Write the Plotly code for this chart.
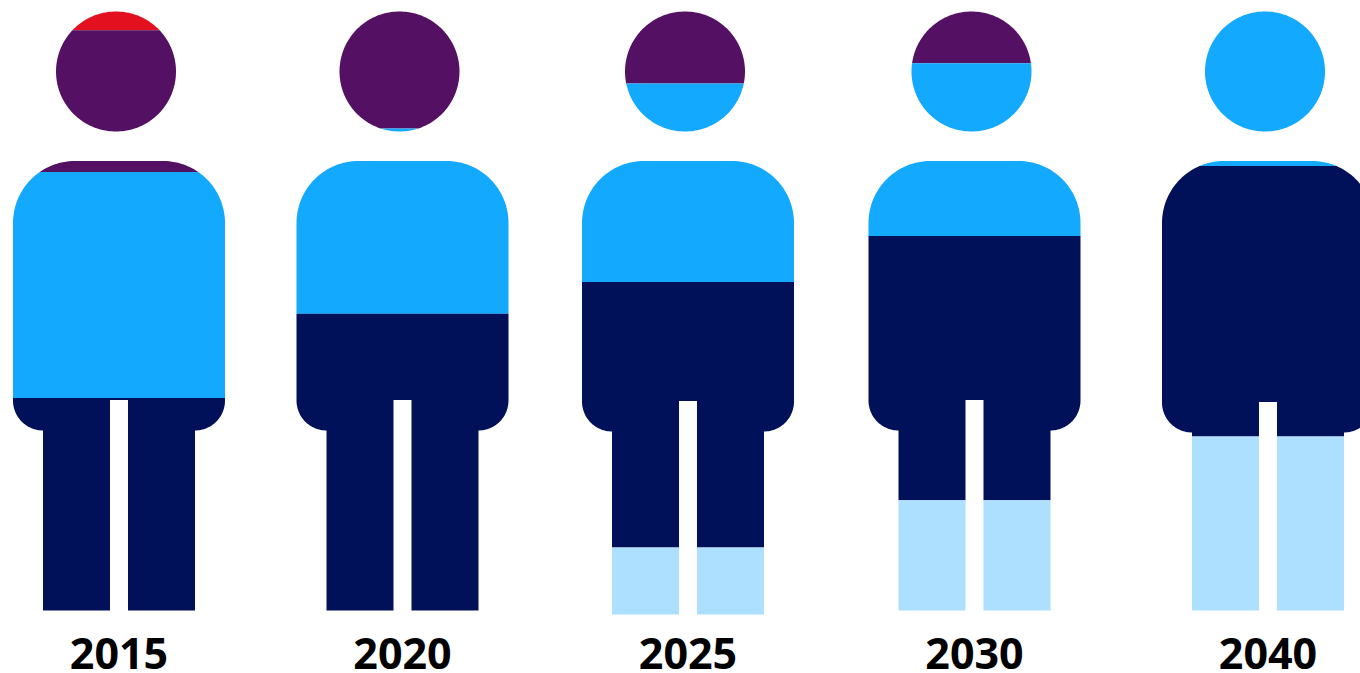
import math
import plotly.graph_objects as go

# ---- data: share of each figure's height (percent), top to bottom ----
years = ["2015", "2020", "2025", "2030", "2040"]
series_names = ["Red", "Purple", "Blue", "Navy", "Light blue"]
red = [3.0, 0.0, 0.0, 0.0, 0.0]
purple = [23.7, 19.4, 11.9, 8.5, 0.0]
blue = [37.8, 31.0, 33.2, 28.9, 25.7]
navy = [35.5, 49.6, 44.4, 44.2, 45.2]
light = [0.0, 0.0, 10.5, 18.4, 29.1]

# ---- style and silhouette geometry ----
colors = ["#E3101F", "#541062", "#12A9FF", "#001059", "#ADDFFF"]
centers = [119, 402.5, 688, 974.5, 1268]
leg_drop = [0, 0, 4, 0, 0]
body_shift = [0, 0, 1, 0, 2]
PX = 5.98            # pixels per percent of figure height
BASE = 610.4         # pixel row of 0 %


def share(py):
    return (BASE - py) / PX


def arc(cx, cy, r, a0, a1, n=32):
    return [(cx + r * math.cos(math.radians(a0 + (a1 - a0) * i / n)),
             cy + r * math.sin(math.radians(a0 + (a1 - a0) * i / n))) for i in range(n + 1)]


def head_poly(cx):
    return arc(cx - 3, 71.5, 60, 0, 360, 180)


def body_poly(cx, drop, sh):
    top = 161
    hw, rt, rb, sh_bot = 106, 62, 30, 430.5 + sh
    leg_o, leg_i, notch, bottom = 76, 9, 400 + sh, BASE + drop
    p = []
    p += arc(cx - hw + rt, top + rt, rt, 180, 270)
    p += arc(cx + hw - rt, top + rt, rt, 270, 360)
    p += arc(cx + hw - rb, sh_bot - rb, rb, 0, 90)
    p += [(cx + leg_o, sh_bot), (cx + leg_o, bottom), (cx + leg_i, bottom), (cx + leg_i, notch),
          (cx - leg_i, notch), (cx - leg_i, bottom), (cx - leg_o, bottom), (cx - leg_o, sh_bot)]
    p += arc(cx - hw + rb, sh_bot - rb, rb, 90, 180)
    return p


def clip(poly, y_lim, keep_above):
    """Sutherland-Hodgman clip against a horizontal line (values in percent)."""
    inside = (lambda v: v >= y_lim) if keep_above else (lambda v: v <= y_lim)
    out = []
    for i, (x0, y0) in enumerate(poly):
        x1, y1 = poly[(i + 1) % len(poly)]
        if inside(y0):
            out.append((x0, y0))
        if inside(y0) != inside(y1):
            t = (y_lim - y0) / (y1 - y0)
            out.append((x0 + t * (x1 - x0), y_lim))
    return out


fig = go.Figure()
stacks = [red, purple, blue, navy, light]
for f, (yr, cx) in enumerate(zip(years, centers)):
    parts = [head_poly(cx), body_poly(cx, leg_drop[f], body_shift[f])]
    parts = [[(x, share(y)) for x, y in part] for part in parts]
    level = 100.0
    for s, (name, values) in enumerate(zip(series_names, stacks)):
        v = values[f]
        if v <= 0:
            continue
        upper, lower = level, level - v
        level = lower
        xs, ys = [], []
        for part in parts:
            poly = part
            if upper < 99.99:
                poly = clip(poly, upper, False)
            if lower > 0.01:
                poly = clip(poly, lower, True)
            if len(poly) < 3:
                continue
            xs += [q[0] for q in poly] + [poly[0][0], None]
            ys += [q[1] for q in poly] + [poly[0][1], None]
        fig.add_trace(go.Scatter(x=xs, y=ys, mode="lines", fill="toself", fillcolor=colors[s],
                                 line=dict(width=0, color=colors[s], simplify=False),
                                 name=f"{name} {yr}", showlegend=False, hoverinfo="name"))

fig.update_layout(
    width=1360, height=673, margin=dict(l=0, r=0, t=0, b=58),
    paper_bgcolor="white", plot_bgcolor="white", showlegend=False,
    xaxis=dict(range=[0, 1360], tickmode="array", tickvals=centers, ticktext=years,
               showgrid=False, zeroline=False, showline=False, ticks="outside", ticklen=1,
               tickcolor="rgba(0,0,0,0)", automargin=False,
               tickfont=dict(family="Open Sans", size=43, color="#000000", weight=700)),
    yaxis=dict(range=[share(615), share(0)], visible=False, showgrid=False, zeroline=False),
)
fig.write_html("out.html", config={"displayModeBar": False},
               post_script="document.body.style.margin='0';document.body.style.overflow='hidden';")
